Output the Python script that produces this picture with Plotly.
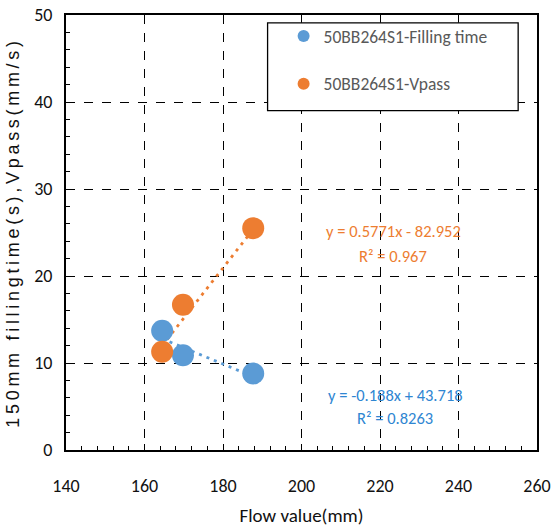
import plotly.graph_objects as go

# Flow value (mm) for each measured sample
flow_fill = [164.5, 169.8, 187.7]
filling_time = [13.7, 10.9, 8.8]

flow_vpass = [164.5, 169.8, 187.7]
vpass = [11.3, 16.7, 25.5]

# Linear trend coefficients (slope, intercept) and R² per series
fill_fit = (-0.188, 43.718, 0.8263)
vpass_fit = (0.5771, -82.952, 0.967)

x_ticks = [140, 160, 180, 200, 220, 240, 260]
y_ticks = [0, 10, 20, 30, 40, 50]

BLUE = "#5B9BD5"
ORANGE = "#ED7D31"
BLUE_TXT = "#2F86D2"
NARROW = "Carlito, 'Liberation Sans Narrow', 'DejaVu Sans Condensed', sans-serif"


def trend(xs, fit):
    lo, hi = min(xs), max(xs)
    return [lo, hi], [fit[0] * lo + fit[1], fit[0] * hi + fit[1]]


fig = go.Figure()

fx, fy = trend(flow_fill, fill_fit)
vx, vy = trend(flow_vpass, vpass_fit)

fig.add_trace(go.Scatter(x=fx, y=fy, mode="lines", showlegend=False,
                         line=dict(color=BLUE, width=2.8, dash="3px,5px"), hoverinfo="skip"))
fig.add_trace(go.Scatter(x=vx, y=vy, mode="lines", showlegend=False,
                         line=dict(color=ORANGE, width=2.8, dash="3px,5px"), hoverinfo="skip"))

fig.add_trace(go.Scatter(x=flow_fill, y=filling_time, mode="markers",
                         name="50BB264S1-Filling time", legendgroup="a",
                         marker=dict(color=BLUE, size=22)))
fig.add_trace(go.Scatter(x=flow_vpass, y=vpass, mode="markers",
                         name="50BB264S1-Vpass", legendgroup="b",
                         marker=dict(color=ORANGE, size=22)))


def eq_lines(fit):
    sign = "+" if fit[1] >= 0 else "-"
    return f"y = {fit[0]:g}x {sign} {abs(fit[1]):g}", f"R² = {fit[2]:g}"


def add_equation(fit, xc, y1, y2, color):
    l1, l2 = eq_lines(fit)
    for txt, yy in ((l1, y1), (l2, y2)):
        fig.add_annotation(x=xc, y=yy, xref="paper", yref="paper", text=txt,
                           xanchor="center", yanchor="middle", showarrow=False,
                           font=dict(family=NARROW, size=16.5, color=color))


add_equation(vpass_fit, 0.6945, 0.504, 0.447, ORANGE)
add_equation(fill_fit, 0.699, 0.126, 0.073, BLUE_TXT)

# legend frame
fig.add_shape(type="rect", xref="paper", yref="paper",
              x0=0.428, x1=0.96, y0=0.78, y1=0.982,
              line=dict(color="black", width=1.3), fillcolor="white", layer="above")

axis_common = dict(
    showgrid=True, griddash="dash", gridcolor="black", gridwidth=1.3,
    showline=True, linecolor="black", linewidth=2, mirror=True,
    ticks="inside", ticklen=6, tickcolor="black", tickwidth=1,
    zeroline=False, ticklabeloverflow="allow", automargin=False,
    tickfont=dict(family=NARROW, size=18, color="#111"),
)

fig.update_xaxes(range=[140, 260], tickvals=x_ticks, ticklabelstandoff=18,
                 minor=dict(ticks="inside", dtick=4, tick0=140, ticklen=4,
                            tickcolor="black", showgrid=False),
                 title=dict(text="Flow value(mm)", font=dict(family=NARROW, size=19, color="#111"),
                            standoff=14),
                 **axis_common)
fig.update_yaxes(range=[0, 50], tickvals=y_ticks, ticklabelstandoff=8,
                 minor=dict(ticks="inside", dtick=2, tick0=0, ticklen=4,
                            tickcolor="black", showgrid=False),
                 title=dict(text="150mm fillingtime(s),Vpass(mm/s)",
                            font=dict(family="'Liberation Sans', Arial, sans-serif", size=18, color="#111"),
                            standoff=10),
                 **axis_common)

fig.update_layout(
    width=551, height=527,
    margin=dict(l=66, r=14, t=15, b=77, autoexpand=False),
    paper_bgcolor="white", plot_bgcolor="white",
    legend=dict(x=0.462, y=0.993, xanchor="left", yanchor="top",
                bgcolor="rgba(0,0,0,0)", borderwidth=0,
                itemsizing="constant", traceorder="grouped", tracegroupgap=22,
                font=dict(family=NARROW, size=17.5, color="#595959")),
    showlegend=True,
)

spacing_js = """
var gd = document.getElementById('{plot_id}');
function spaceTitle(){
  gd.querySelectorAll('.g-ytitle text').forEach(function(t){ t.style.letterSpacing = '3.7px'; });
}
spaceTitle();
gd.on('plotly_afterplot', spaceTitle);
"""

fig.write_html("out.html", post_script=spacing_js)
